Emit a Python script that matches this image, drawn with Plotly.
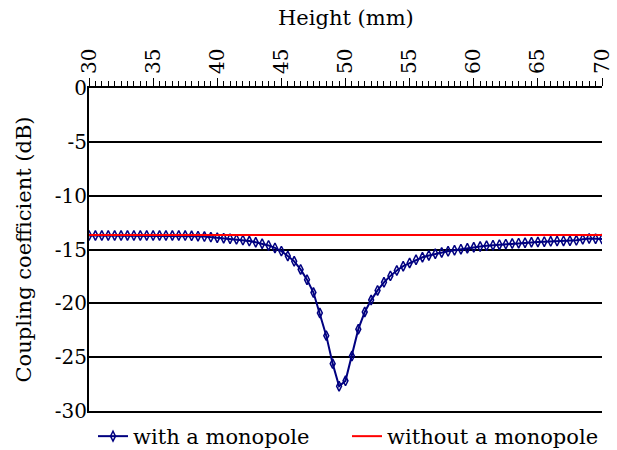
import plotly.graph_objects as go

height_mm = [30 + 0.5 * i for i in range(81)]
with_monopole = [
    -13.70, -13.70, -13.70, -13.70, -13.70, -13.70, -13.70, -13.70, -13.70, -13.70,
    -13.70, -13.70, -13.70, -13.70, -13.70, -13.71, -13.73, -13.76, -13.80, -13.85,
    -13.90, -13.95, -14.00, -14.06, -14.13, -14.22, -14.33, -14.46, -14.62, -14.85,
    -15.15, -15.60, -16.10, -16.85, -17.80, -19.00, -20.90, -23.00, -25.60, -27.70,
    -27.20, -24.90, -22.40, -20.80, -19.70, -18.80, -18.05, -17.45, -16.95, -16.55,
    -16.25, -15.95, -15.72, -15.55, -15.40, -15.28, -15.17, -15.07, -14.97, -14.88,
    -14.80, -14.72, -14.65, -14.60, -14.55, -14.50, -14.45, -14.41, -14.37, -14.33,
    -14.30, -14.27, -14.24, -14.21, -14.20, -14.19, -14.15, -14.05, -13.98, -14.00,
    -14.02,
]
without_x = [30, 70]
without_monopole = [-13.65, -13.65]
x_ticks = [30, 35, 40, 45, 50, 55, 60, 65, 70]
y_ticks = [0, -5, -10, -15, -20, -25, -30]

FONT = "DejaVu Serif"

fig = go.Figure()
fig.add_trace(go.Scatter(
    x=without_x, y=without_monopole, mode="lines", name="without a monopole",
    xaxis="x2", yaxis="y",
    line=dict(color="#ff0000", width=2),
))
fig.add_trace(go.Scatter(
    x=height_mm, y=with_monopole, mode="lines+markers", name="with a monopole",
    line=dict(color="#000080", width=2),
    marker=dict(symbol="diamond-tall-open", size=7, color="#000080",
                line=dict(color="#000080", width=1.5)),
))

fig.update_layout(
    width=617, height=450,
    margin=dict(l=89, r=15, t=88, b=39, autoexpand=False),
    paper_bgcolor="white", plot_bgcolor="white",
    font=dict(family=FONT, size=20, color="black"),
    showlegend=True,
    legend=dict(orientation="h", x=93 / 617, y=0.03, xref="container", yref="container",
                xanchor="left", yanchor="middle",
                font=dict(family=FONT, size=21), itemwidth=30,
                entrywidth=209, entrywidthmode="pixels",
                bgcolor="rgba(0,0,0,0)",
                tracegroupgap=0, traceorder="reversed"),
    xaxis=dict(
        side="top", range=[30, 70], tickvals=x_ticks, ticktext=[str(v) for v in x_ticks],
        tickangle=-90, showgrid=False, zeroline=False, automargin=False,
        showline=True, linecolor="black", linewidth=2,
        ticks="outside", ticklen=8, tickwidth=1, tickcolor="black",
        minor=dict(dtick=0.5, ticks="outside", ticklen=5, tickwidth=1, tickcolor="black"),
        tickfont=dict(family=FONT, size=20),
    ),
    xaxis2=dict(
        overlaying="x", anchor="y", side="bottom", range=[30, 70],
        showline=True, linecolor="black", linewidth=2, showgrid=False,
        zeroline=False, showticklabels=False, ticks="", automargin=False,
    ),
    yaxis=dict(
        range=[-30, 0], tickvals=y_ticks, ticktext=[str(v) for v in y_ticks],
        showgrid=True, gridcolor="black", gridwidth=2, zeroline=False, automargin=False,
        showline=True, linecolor="black", linewidth=2,
        ticks="", ticklabelstandoff=-4, tickfont=dict(family=FONT, size=20),
    ),
    annotations=[
        dict(text="Height (mm)", x=0.5, y=1, xref="paper", yref="paper",
             xanchor="center", yanchor="middle", yshift=70, showarrow=False,
             font=dict(family=FONT, size=21)),
        dict(text="Coupling coefficient (dB)", x=0, y=0.5, xref="paper", yref="paper",
             xanchor="center", yanchor="middle", xshift=-66, textangle=-90, showarrow=False,
             font=dict(family=FONT, size=21)),
    ],
)

fig.write_html("out.html")
